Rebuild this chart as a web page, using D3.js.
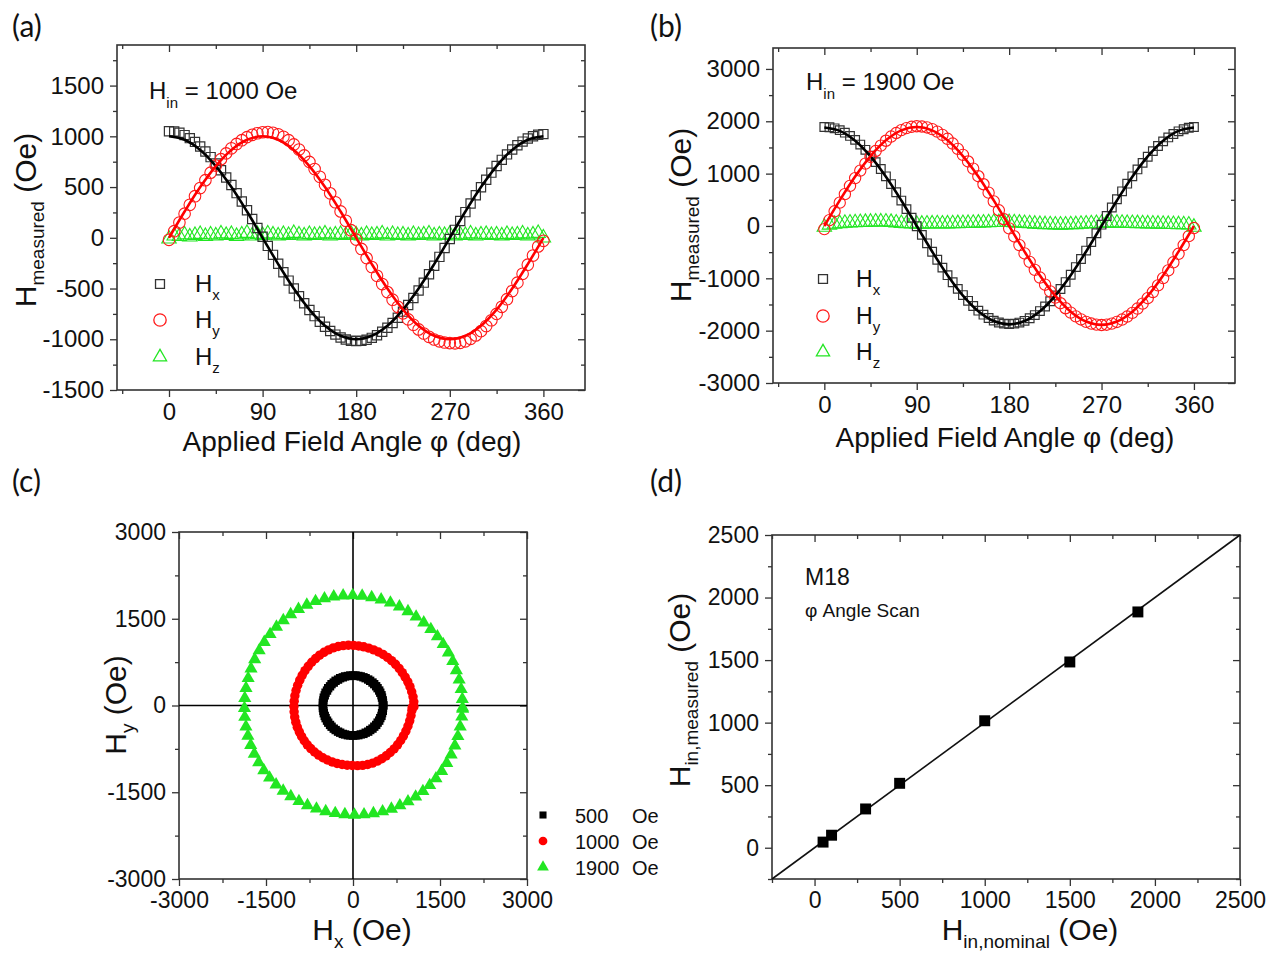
<!DOCTYPE html>
<html>
<head>
<meta charset="utf-8">
<title>Field angle scans</title>
<script src="https://cdnjs.cloudflare.com/ajax/libs/d3/7.8.5/d3.min.js"></script>
<style>
  body { margin: 0; background: #fff; }
  svg { font-family: "Liberation Sans", Arial, sans-serif; }
</style>
</head>
<body>
<svg width="1278" height="954"></svg>
<script>
// scan angles (deg)
var angles = [0,5,10,15,20,25,30,35,40,45,50,55,60,65,70,75,80,85,90,95,100,105,110,115,120,125,130,135,140,145,
  150,155,160,165,170,175,180,185,190,195,200,205,210,215,220,225,230,235,240,245,250,255,260,265,270,275,280,285,290,295,
  300,305,310,315,320,325,330,335,340,345,350,355,360];

// (a) Hin = 1000 Oe
var hxA = [1050,1048,1035,1012,982,945,900,850,795,733,665,595,520,440,357,272,185,97,10,-80,
  -168,-255,-340,-422,-500,-575,-645,-712,-772,-828,-876,-918,-954,-982,-1002,-1014,-1018,-1015,-1005,-986,
  -960,-926,-886,-840,-788,-728,-663,-594,-520,-442,-360,-275,-188,-100,-12,78,166,253,338,420,
  498,572,642,708,768,822,870,912,948,978,1000,1015,1022];
var hyA = [-20,65,150,238,325,410,490,568,642,712,775,832,882,925,962,992,1015,1030,1040,1042,
  1035,1020,996,962,920,870,812,748,678,602,522,438,350,260,168,75,-18,-110,-200,-288,
  -374,-456,-535,-610,-680,-745,-804,-857,-903,-943,-976,-1002,-1020,-1032,-1038,-1040,-1035,-1020,-996,-962,
  -920,-870,-813,-750,-680,-605,-525,-442,-355,-265,-175,-85,-30];
var hzA = [-10,20,15,30,10,25,35,15,30,20,40,25,35,15,30,45,20,35,25,40,
  30,20,35,25,45,30,20,35,25,30,40,20,30,35,25,40,30,20,35,25,
  30,40,20,35,25,30,20,35,25,30,40,20,30,25,35,20,30,25,40,20,
  30,35,25,30,20,35,25,30,40,20,30,45,0];

// (b) Hin = 1900 Oe
var hxB = [1890,1885,1865,1830,1782,1720,1645,1555,1455,1342,1220,1088,948,800,645,485,322,158,-5,-170,
  -332,-492,-646,-796,-940,-1075,-1202,-1320,-1430,-1530,-1618,-1695,-1758,-1808,-1845,-1866,-1872,-1866,-1846,-1812,
  -1764,-1702,-1626,-1538,-1438,-1326,-1204,-1072,-932,-785,-630,-470,-306,-140,25,190,352,510,662,808,
  948,1080,1205,1322,1430,1528,1616,1692,1756,1808,1848,1876,1890];
var hyB = [-60,110,280,445,608,765,915,1058,1192,1318,1432,1535,1628,1708,1776,1830,1870,1895,1905,1900,
  1882,1850,1802,1740,1665,1575,1472,1358,1232,1096,950,797,636,470,300,128,-45,-200,-365,-525,
  -685,-838,-985,-1122,-1250,-1368,-1476,-1572,-1656,-1728,-1786,-1832,-1864,-1884,-1892,-1886,-1866,-1834,-1788,-1730,
  -1660,-1578,-1484,-1380,-1262,-1135,-996,-850,-694,-532,-365,-195,-40];
var hzB = [-20,20,35,45,55,60,65,70,72,75,78,80,78,72,60,50,45,40,35,38,
  40,42,45,40,42,45,48,50,52,55,58,60,65,68,70,72,70,65,58,50,
  45,38,32,28,25,22,20,22,25,28,35,40,45,50,55,58,60,58,55,52,
  50,48,45,42,40,38,35,32,30,28,25,22,-20];

// 500 Oe scan (only shown in c)
var hx500 = [522,517,513,500,491,470,452,424,399,366,336,296,262,218,180,133,92,43,2,-47,
  -88,-137,-176,-222,-258,-300,-332,-370,-396,-428,-448,-473,-487,-504,-510,-520,-518,-519,-510,-503,
  -487,-472,-448,-427,-396,-369,-332,-299,-258,-221,-176,-136,-88,-46,3,44,92,134,180,219,
  262,297,336,367,400,425,452,470,491,501,514,517,521];
var hy500 = [2,46,89,136,177,221,259,299,333,369,397,427,449,472,488,503,511,519,518,519,
  510,503,487,472,448,427,396,369,332,299,258,221,176,136,88,46,-3,-44,-92,-134,
  -180,-219,-262,-297,-336,-367,-400,-425,-452,-470,-491,-501,-514,-517,-521,-517,-513,-500,-491,-470,
  -452,-424,-399,-366,-336,-296,-262,-218,-180,-133,-92,-43,2];

// fitted curves
var fitAngles = [0,15,30,45,60,75,90,105,120,135,150,165,180,195,210,225,240,255,270,285,300,315,330,345,360];
var fitHxA = [1000,966,866,707,500,259,0,-259,-500,-707,-866,-966,-1000,-966,-866,-707,-500,-259,0,259,500,707,866,966,1000];
var fitHyA = [0,259,500,707,866,966,1000,966,866,707,500,259,0,-259,-500,-707,-866,-966,-1000,-966,-866,-707,-500,-259,0];
var fitHxB = [1880,1816,1628,1329,940,487,0,-487,-940,-1329,-1628,-1816,-1880,-1816,-1628,-1329,-940,-487,0,487,940,1329,1628,1816,1880];
var fitHyB = [0,489,945,1336,1637,1826,1890,1826,1637,1336,945,489,0,-489,-945,-1336,-1637,-1826,-1890,-1826,-1637,-1336,-945,-489,0];

// (d) nominal vs measured
var nominal = [50,100,300,500,1000,1500,1900];
var measured = [45,100,310,515,1015,1485,1885];
var diagonal = [-250,2500];

var svg = d3.select("svg");
var BLK = "#333", RED = "#ff1a1a", GRN = "#22e622";

function makePanel(c) {
  var g = svg.append("g").attr("transform", "translate(" + c.left + "," + c.top + ")");
  var x = d3.scaleLinear().domain(c.xDomain).range([0, c.width]);
  var y = d3.scaleLinear().domain(c.yDomain).range([c.height, 0]);
  function ax(fn, scale, vals, size, labels, tr) {
    var a = fn(scale).tickValues(vals).tickSize(size).tickPadding(c.pad)
      .tickFormat(labels ? function (d) { return String(d); } : function () { return ""; });
    var s = g.append("g").attr("transform", tr).call(a);
    s.select(".domain").remove();
    s.selectAll("line").attr("stroke", BLK).attr("stroke-width", 1.3);
    s.selectAll("text").attr("font-size", c.fontSize).attr("fill", "#111")
      .attr("font-family", "Liberation Sans, Arial, sans-serif");
  }
  var bt = "translate(0," + c.height + ")", rt = "translate(" + c.width + ",0)";
  ax(d3.axisBottom, x, c.xMajor, 7, true, bt);
  ax(d3.axisBottom, x, c.xMinor, 4, false, bt);
  ax(d3.axisTop, x, c.xMajor, -7, false, null);
  ax(d3.axisTop, x, c.xMinor, -4, false, null);
  ax(d3.axisLeft, y, c.yMajor, 7, true, null);
  ax(d3.axisLeft, y, c.yMinor, 4, false, null);
  ax(d3.axisRight, y, c.yMajor, -7, false, rt);
  ax(d3.axisRight, y, c.yMinor, -4, false, rt);
  g.append("rect").attr("width", c.width).attr("height", c.height)
    .attr("fill", "none").attr("stroke", BLK).attr("stroke-width", 1.6);
  return { g: g, x: x, y: y };
}

function scatter(p, xs, ys, type, size, fill, stroke, sw) {
  p.g.append("g").selectAll("path")
    .data(xs.map(function (v, i) { return [v, ys[i]]; }))
    .join("path")
    .attr("transform", function (d) { return "translate(" + p.x(d[0]) + "," + p.y(d[1]) + ")"; })
    .attr("d", d3.symbol().type(type).size(size))
    .attr("fill", fill).attr("stroke", stroke).attr("stroke-width", sw);
}

function fitLine(p, xs, ys, color) {
  var line = d3.line().curve(d3.curveCatmullRom)
    .x(function (d) { return p.x(d[0]); }).y(function (d) { return p.y(d[1]); });
  p.g.append("path").datum(xs.map(function (v, i) { return [v, ys[i]]; }))
    .attr("d", line).attr("fill", "none").attr("stroke", color).attr("stroke-width", 2.6);
}

// text with subscripts: parts = [[text, isSub], ...]
function rich(parent, x, y, parts, base, sub, shift, anchor, rotate) {
  var t = parent.append("text").attr("fill", "#111").attr("text-anchor", anchor || "start")
    .attr("transform", "translate(" + x + "," + y + ")" + (rotate ? " rotate(-90)" : ""));
  var cur = 0;
  parts.forEach(function (pt) {
    var target = pt[1] ? shift : 0;
    t.append("tspan").text(pt[0]).attr("font-size", pt[1] ? sub : base).attr("dy", target - cur);
    cur = target;
  });
  return t;
}

function panelLabel(x, y, s) {
  svg.append("text").attr("x", x).attr("y", y).attr("font-family", "Lato, 'Open Sans', sans-serif")
    .attr("font-size", 30).attr("fill", "#111").text(s);
}

function angleLegend(p, lx, tx, rows, size) {
  var items = [
    [d3.symbolSquare, 80, "none", BLK, "x"],
    [d3.symbolCircle, 120, "none", RED, "y"],
    [d3.symbolTriangle, 75, "none", GRN, "z"]
  ];
  items.forEach(function (it, i) {
    svg.append("path").attr("transform", "translate(" + lx + "," + rows[i] + ")")
      .attr("d", d3.symbol().type(it[0]).size(it[1]))
      .attr("fill", it[2]).attr("stroke", it[3]).attr("stroke-width", 1.3);
    rich(svg, tx, rows[i] + 8, [["H", 0], [it[4], 1]], size, 15, 8);
  });
}

var angleAxes = {
  xDomain: [-50, 400], xMajor: [0, 90, 180, 270, 360], xMinor: [-45, 45, 135, 225, 315],
  pad: 6, fontSize: 24
};

// ---------- (a) ----------
var pa = makePanel(Object.assign({}, angleAxes, {
  left: 117, top: 45, width: 468, height: 345,
  yDomain: [-1500, 1900],
  yMajor: [-1500, -1000, -500, 0, 500, 1000, 1500],
  yMinor: [-1250, -750, -250, 250, 750, 1250, 1750]
}));
scatter(pa, angles, hzA, d3.symbolTriangle, 90, "none", GRN, 1.1);
scatter(pa, angles, hxA, d3.symbolSquare, 85, "none", BLK, 1.2);
scatter(pa, angles, hyA, d3.symbolCircle, 105, "none", RED, 1.1);
fitLine(pa, fitAngles, fitHxA, "#000");
fitLine(pa, fitAngles, fitHyA, "#ff0000");
rich(svg, 149, 99, [["H", 0], ["in", 1], [" = 1000 Oe", 0]], 24, 15, 9);
angleLegend(pa, 160, 195, [284, 320, 357], 24);

// ---------- (b) ----------
var pb = makePanel(Object.assign({}, angleAxes, {
  left: 773, top: 48, width: 462, height: 335,
  yDomain: [-3000, 3400],
  yMajor: [-3000, -2000, -1000, 0, 1000, 2000, 3000],
  yMinor: [-2500, -1500, -500, 500, 1500, 2500]
}));
scatter(pb, angles, hzB, d3.symbolTriangle, 90, "none", GRN, 1.1);
scatter(pb, angles, hxB, d3.symbolSquare, 75, "none", BLK, 1.2);
scatter(pb, angles, hyB, d3.symbolCircle, 100, "none", RED, 1.1);
fitLine(pb, fitAngles, fitHxB, "#000");
fitLine(pb, fitAngles, fitHyB, "#ff0000");
rich(svg, 806, 90, [["H", 0], ["in", 1], [" = 1900 Oe", 0]], 24, 15, 9);
angleLegend(pb, 823, 856, [279, 316, 352], 23);

// ---------- (c) ----------
var hxy = [-3000, -1500, 0, 1500, 3000], hxyMinor = [-2250, -750, 750, 2250];
var pc = makePanel({
  left: 179, top: 532, width: 348, height: 347,
  xDomain: [-3000, 3000], yDomain: [-3000, 3000],
  xMajor: hxy, xMinor: hxyMinor, yMajor: hxy, yMinor: hxyMinor,
  pad: 6, fontSize: 23
});
pc.g.append("line").attr("x1", pc.x(0)).attr("x2", pc.x(0)).attr("y1", 0).attr("y2", 347)
  .attr("stroke", "#000").attr("stroke-width", 1.6);
pc.g.append("line").attr("y1", pc.y(0)).attr("y2", pc.y(0)).attr("x1", 0).attr("x2", 348)
  .attr("stroke", "#000").attr("stroke-width", 1.6);
scatter(pc, hxB, hyB, d3.symbolTriangle, 75, GRN, "none", 0);
scatter(pc, hxA, hyA, d3.symbolCircle, 70, "#ff0000", "none", 0);
scatter(pc, hx500, hy500, d3.symbolSquare, 70, "#000", "none", 0);

var cLegend = [
  [d3.symbolSquare, 50, "#000", "500"],
  [d3.symbolCircle, 60, "#ff0000", "1000"],
  [d3.symbolTriangle, 60, GRN, "1900"]
];
cLegend.forEach(function (it, i) {
  var yy = 815 + i * 26;
  svg.append("path").attr("transform", "translate(543," + yy + ")")
    .attr("d", d3.symbol().type(it[0]).size(it[1])).attr("fill", it[2]);
  svg.append("text").attr("x", 575).attr("y", yy + 8).attr("font-size", 20).attr("fill", "#111").text(it[3]);
  svg.append("text").attr("x", 632).attr("y", yy + 8).attr("font-size", 20).attr("fill", "#111").text("Oe");
});

// ---------- (d) ----------
var dMajor = [0, 500, 1000, 1500, 2000, 2500], dMinor = [-250, 250, 750, 1250, 1750, 2250];
var pd = makePanel({
  left: 772, top: 535, width: 468, height: 344,
  xDomain: [-250, 2500], yDomain: [-250, 2500],
  xMajor: dMajor, xMinor: dMinor, yMajor: dMajor, yMinor: dMinor,
  pad: 6, fontSize: 23
});
pd.g.append("line")
  .attr("x1", pd.x(diagonal[0])).attr("y1", pd.y(diagonal[0]))
  .attr("x2", pd.x(diagonal[1])).attr("y2", pd.y(diagonal[1]))
  .attr("stroke", "#111").attr("stroke-width", 1.6);
scatter(pd, nominal, measured, d3.symbolSquare, 120, "#000", "none", 0);
svg.append("text").attr("x", 805).attr("y", 585).attr("font-size", 23).attr("fill", "#111").text("M18");
svg.append("text").attr("x", 805).attr("y", 617).attr("font-size", 19).attr("fill", "#111").text("φ Angle Scan");

// ---------- titles ----------
panelLabel(12, 37, "(a)");
panelLabel(650, 37, "(b)");
panelLabel(12, 492, "(c)");
panelLabel(650, 492, "(d)");

svg.append("text").attr("x", 352).attr("y", 451).attr("text-anchor", "middle")
  .attr("font-size", 28).attr("fill", "#111").text("Applied Field Angle φ (deg)");
svg.append("text").attr("x", 1005).attr("y", 447).attr("text-anchor", "middle")
  .attr("font-size", 28).attr("fill", "#111").text("Applied Field Angle φ (deg)");
rich(svg, 36, 220, [["H", 0], ["measured", 1], [" (Oe)", 0]], 30, 19, 8, "middle", true);
rich(svg, 691, 215, [["H", 0], ["measured", 1], [" (Oe)", 0]], 30, 19, 8, "middle", true);
rich(svg, 126, 705, [["H", 0], ["y", 1], [" (Oe)", 0]], 30, 19, 8, "middle", true);
rich(svg, 690, 690, [["H", 0], ["in,measured", 1], [" (Oe)", 0]], 30, 19, 8, "middle", true);
rich(svg, 362, 940, [["H", 0], ["x", 1], [" (Oe)", 0]], 30, 19, 8, "middle");
rich(svg, 1030, 940, [["H", 0], ["in,nominal", 1], [" (Oe)", 0]], 30, 19, 8, "middle");
</script>
</body>
</html>
